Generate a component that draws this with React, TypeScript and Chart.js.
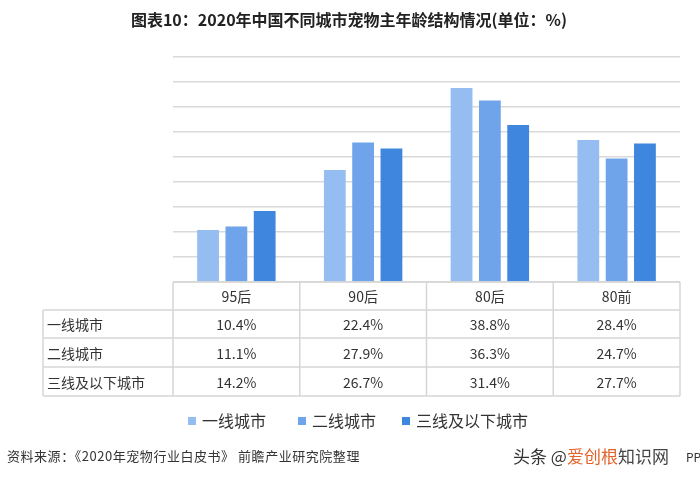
import React, { useEffect, useRef } from "react";
import { Chart, registerables } from "chart.js";

Chart.register(...registerables);

const titleText = "图表10：2020年中国不同城市宠物主年龄结构情况(单位：%)";
const categories = ["95后", "90后", "80后", "80前"];
const seriesNames = ["一线城市", "二线城市", "三线及以下城市"];
const tier1Values = [10.4, 22.4, 38.8, 28.4];
const tier2Values = [11.1, 27.9, 36.3, 24.7];
const tier3Values = [14.2, 26.7, 31.4, 27.7];
const seriesColors = ["#95bdf2", "#6fa4ea", "#3f86de"];
const sourceText = "资料来源：《2020年宠物行业白皮书》 前瞻产业研究院整理";

const FONT = '"Noto Sans CJK SC", "Noto Sans", sans-serif';

const tablePlugin = {
  id: "tableAndText",
  afterDraw(chart: any) {
    const ctx = chart.ctx as CanvasRenderingContext2D;
    const area = chart.chartArea;
    const xs = chart.scales.x;
    const n = categories.length;
    const colW = (area.right - area.left) / n;
    const tableLeft = 43;
    const rowTops = [area.bottom, area.bottom + 28, area.bottom + 56, area.bottom + 85, area.bottom + 114];
    const allSeries = [tier1Values, tier2Values, tier3Values];

    ctx.save();
    // title
    ctx.fillStyle = "#222";
    ctx.font = `bold 16px ${FONT}`;
    ctx.textAlign = "center";
    ctx.textBaseline = "middle";
    ctx.fillText(titleText, 349, 20);

    // table borders
    ctx.strokeStyle = "#d6d6d6";
    ctx.lineWidth = 1.5;
    ctx.beginPath();
    ctx.moveTo(area.left, rowTops[0]);
    ctx.lineTo(area.right, rowTops[0]);
    for (let r = 1; r < rowTops.length; r++) {
      ctx.moveTo(tableLeft, rowTops[r]);
      ctx.lineTo(area.right, rowTops[r]);
    }
    ctx.moveTo(tableLeft, rowTops[1]);
    ctx.lineTo(tableLeft, rowTops[4]);
    for (let c = 0; c <= n; c++) {
      const x = area.left + c * colW;
      ctx.moveTo(x, rowTops[0]);
      ctx.lineTo(x, rowTops[4]);
    }
    ctx.stroke();

    ctx.fillStyle = "#333";
    ctx.font = `14px ${FONT}`;
    ctx.textBaseline = "middle";
    ctx.textAlign = "center";
    categories.forEach((cat, i) => {
      const x = xs.getPixelForValue(i);
      ctx.fillText(cat, x, (rowTops[0] + rowTops[1]) / 2 + 1);
    });
    seriesNames.forEach((name, r) => {
      const yMid = (rowTops[r + 1] + rowTops[r + 2]) / 2 + 1;
      ctx.textAlign = "left";
      ctx.fillText(name, tableLeft + 4, yMid);
      ctx.textAlign = "center";
      allSeries[r].forEach((v, i) => {
        ctx.fillText(v.toFixed(1) + "%", xs.getPixelForValue(i), yMid);
      });
    });

    // legend
    ctx.font = `16px ${FONT}`;
    ctx.textAlign = "left";
    const legendX = [188, 298, 402];
    seriesNames.forEach((name, i) => {
      ctx.fillStyle = seriesColors[i];
      ctx.fillRect(legendX[i], 417, 8, 8);
      ctx.fillStyle = "#333";
      ctx.fillText(name, legendX[i] + 14, 421);
    });

    // source
    ctx.font = `13px ${FONT}`;
    ctx.fillStyle = "#333";
    const sw = ctx.measureText(sourceText).width;
    const extra = (353 - sw) / sourceText.length;
    (ctx as any).letterSpacing = `${Math.max(0, extra).toFixed(2)}px`;
    ctx.fillText(sourceText, 7, 456);
    (ctx as any).letterSpacing = "0px";

    // re-poster watermark
    ctx.font = `17px ${FONT}`;
    let wx = 513;
    const parts: [string, string][] = [["头条 @", "#333"], ["爱创根", "#e4622a"], ["知识网", "#444"]];
    parts.forEach(([t, c]) => {
      ctx.fillStyle = c;
      ctx.fillText(t, wx, 457);
      wx += ctx.measureText(t).width;
    });
    ctx.font = `12px ${FONT}`;
    ctx.fillStyle = "#333";
    ctx.fillText("PP", 686, 457);
    ctx.restore();
  },
};

export default function App() {
  const ref = useRef<HTMLCanvasElement | null>(null);
  useEffect(() => {
    document.body.style.margin = "0";
    if (!ref.current) return;
    const chart = new Chart(ref.current, {
      type: "bar",
      data: {
        labels: categories,
        datasets: [
          { label: seriesNames[0], data: tier1Values, backgroundColor: seriesColors[0] },
          { label: seriesNames[1], data: tier2Values, backgroundColor: seriesColors[1] },
          { label: seriesNames[2], data: tier3Values, backgroundColor: seriesColors[2] },
        ],
      },
      options: {
        animation: false,
        responsive: false,
        maintainAspectRatio: false,
        layout: { padding: { left: 173, right: 20, top: 57, bottom: 195 } },
        datasets: { bar: { categoryPercentage: 0.67, barPercentage: 0.77 } },
        plugins: {
          legend: { display: false },
          title: { display: false },
          tooltip: { enabled: false },
        },
        scales: {
          x: { display: false },
          y: {
            min: 0,
            max: 45,
            ticks: { display: false, stepSize: 5 },
            border: { display: false },
            grid: { color: "#d9d9d9", lineWidth: 1.5, drawTicks: false },
            afterFit: (s: any) => {
              s.width = 0;
            },
          },
        },
      },
      plugins: [tablePlugin],
    });
    return () => chart.destroy();
  }, []);
  return (
    <div style={{ position: "absolute", left: 0, top: 0, width: 700, height: 477, background: "#fff" }}>
      <canvas ref={ref} width={700} height={477} style={{ width: 700, height: 477 }} />
    </div>
  );
}
